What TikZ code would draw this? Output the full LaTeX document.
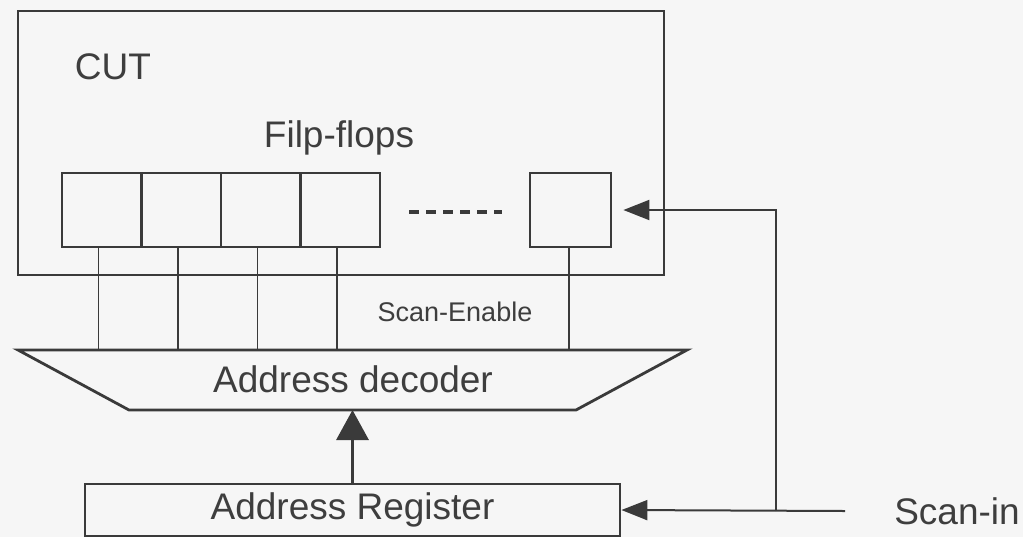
\documentclass[tikz,border=0pt]{standalone}
\usepackage{fontspec}
\setmainfont{Liberation Sans}
\usetikzlibrary{arrows.meta,positioning}
\definecolor{linegray}{RGB}{58,58,58}
\definecolor{textgray}{RGB}{62,62,62}
\definecolor{paper}{RGB}{246,246,246}

\begin{document}
\begin{tikzpicture}[x=0.5pt,y=-0.5pt,
    box/.style={draw=linegray, line width=1.4pt, inner sep=0pt},
    ffbox/.style={box, minimum width=39.75pt, minimum height=37pt},
    wire/.style={draw=linegray, line width=0.75pt},
    sig/.style={wire, line width=1pt, -{Triangle[length=13pt,width=10pt]}},
    lbl/.style={text=textgray, font=\fontsize{18.5}{20}\selectfont},
    small/.style={text=textgray, font=\fontsize{13.5}{15}\selectfont}]
  \fill[paper] (0,0) rectangle (1023,537);
  \useasboundingbox (0,0) rectangle (1023,537);

  % circuit under test
  \node[box, minimum width=323pt, minimum height=132pt] (cut) at (341,143) {};
  \node[lbl] (cutlabel) at (113,67) {CUT};
  \node[lbl] (fflabel) at (339,138) {Filp-flops};
  \foreach \i in {1,...,4} {
    \node[ffbox] (ff\i) at ({62+79.5*(\i-0.5)},210) {};
  }
  \draw[linegray, line width=1.6pt, dash pattern=on 5pt off 3.5pt] (409,212) -- (502,212);
  \node[ffbox, minimum width=40.5pt] (ffn) at (570.5,210) {};

  % decoder
  \coordinate (dectl) at (18,350);
  \coordinate (dectr) at (687,350);
  \coordinate (decbr) at (576,410);
  \coordinate (decbl) at (129,410);
  \draw[box] (dectl) -- (dectr) -- (decbr) -- (decbl) -- cycle;
  \node[lbl] (dec) at (353,379) {Address decoder};
  \node[small] (se) at (455,312) {Scan-Enable};
  \foreach \i in {1,...,4} {
    \draw[wire] ([xshift=-1.75pt]ff\i.south) -- ([xshift=-1.75pt]ff\i.south |- dectl);
  }
  \draw[wire] ([xshift=-0.75pt]ffn.south) -- ([xshift=-0.75pt]ffn.south |- dectl);

  % address register
  \node[box, minimum width=267.5pt, minimum height=26pt, lbl] (reg) at (352.5,510) {Address Register};
  \draw[linegray, line width=1.6pt, -{Triangle[length=15pt,width=16pt]}] (reg.north) -- (reg.north |- decbl);

  % scan input
  \node[lbl] (scanin) at (957,511) {Scan-in};
  \coordinate (sinend) at (845,511);
  \coordinate (split) at (776,511);
  \draw[sig] (sinend) -- (reg.east);
  \draw[sig, shorten >=5.5pt] (split) |- (ffn.east);
\end{tikzpicture}
\end{document}
